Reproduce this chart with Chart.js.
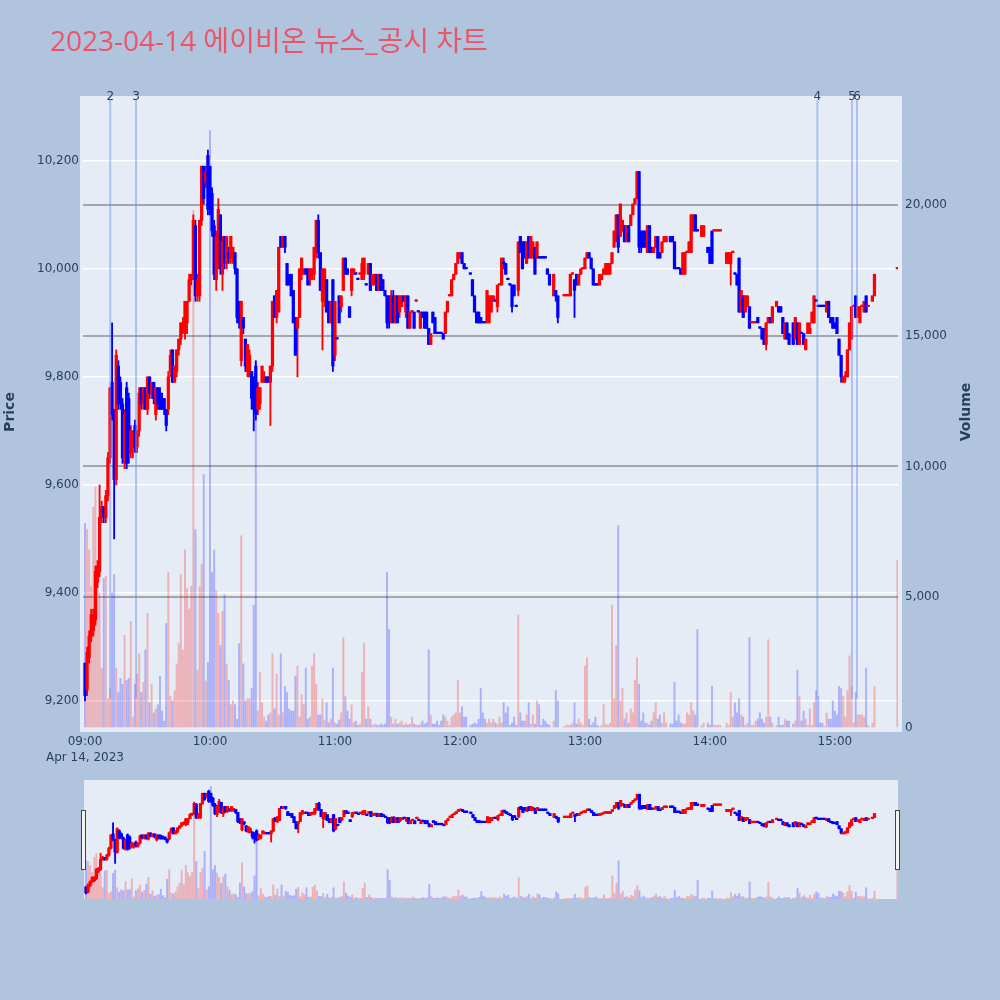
<!DOCTYPE html>
<html lang="ko">
<head>
<meta charset="utf-8">
<script src="https://cdn.jsdelivr.net/npm/chart.js"></script>
<style>
  html, body { margin:0; padding:0; background:#b0c4de; }
  body { width:1000px; height:1000px; position:relative; overflow:hidden; }
  #mainWrap { position:absolute; left:0; top:0; width:1000px; height:770px; }
  #sliderWrap { position:absolute; left:84px; top:780px; width:814px; height:119px; background:#e5ecf6; }
  .handle { position:absolute; top:810px; width:3px; height:58px; background:#f4f4f4; border:1px solid #444; }
</style>
</head>
<body>
<div id="mainWrap"><canvas id="main" width="1000" height="770"></canvas></div>
<div id="sliderWrap"><canvas id="slider" width="814" height="119"></canvas></div>
<div class="handle" style="left:81px"></div>
<div class="handle" style="left:895px"></div>
<script>
// ---------------- DATA ----------------
const chartTitle = '2023-04-14 에이비온 뉴스_공시 차트';
const dateLabel = 'Apr 14, 2023';
const hourLabels = ['09:00','10:00','11:00','12:00','13:00','14:00','15:00'];
const hourTicks = [0, 60, 120, 180, 240, 300, 360];           // minutes after 09:00
const priceTicks = [9200, 9400, 9600, 9800, 10000, 10200];
const volumeTicks = [0, 5000, 10000, 15000, 20000];
const eventLabels = ['2', '3', '4', '5', '6'];
const eventTimes = [12.1, 24.5, 351.6, 368.2, 370.6];         // minutes after 09:00

// one entry per minute from 09:00 (index 0) to 15:30 (index 390); null = no trade
const opens = [
 9270,9220,9280,9320,9330,9350,9420,9440,9540,9560,
 9540,9580,9650,9790,9730,9610,9820,9790,9750,9640,
 9780,9760,9660,9670,9710,9670,9700,9780,9750,9780,
 9740,9800,9770,9790,9730,9780,9770,9760,9760,9740,
 9740,9810,9850,9790,9810,9850,9870,9890,9880,9900,
 9940,9980,9990,10080,9950,9950,10090,10190,10160,10210,
 10190,10140,10080,9980,10010,10100,9990,10060,10010,10030,
 10020,10020,10030,10000,9940,9830,9910,9870,9810,9800,
 9810,9800,9820,9740,9750,9790,9790,9800,9800,9790,
 9820,9950,9910,9920,10060,10040,10060,10010,9990,9990,
 9960,9910,9890,9910,9990,9990,10000,10000,9980,9990,
 9990,10030,10090,10030,9940,9940,9980,9940,9900,9980,
 9840,9870,9950,9930,9960,10020,10000,9930,9960,9990,
 9990,9980,9990,9980,9990,9970,9990,10010,9970,9980,
 9990,9960,9990,9980,9960,9950,9950,9900,9950,9900,
 9950,9920,9930,9950,9920,9950,9890,9920,9920,9940,
 9920,9890,9920,9920,9920,9890,9860,9920,9910,9880,
 9880,9880,9880,9880,9920,9950,9950,9980,9990,10010,
 10020,10030,10010,10000,null,9990,9980,9950,9920,9920,
 9910,9900,9900,9900,9900,9920,9940,9940,9930,9970,
 9970,10010,10010,9980,9970,9970,9970,9930,9960,10060,
 10050,10050,10010,10060,10020,10020,10040,10020,10020,10020,
 10020,10020,10000,9990,null,9950,9960,9950,null,null,
 9950,9950,9950,9950,9990,9980,9990,9970,9990,10000,
 10000,10020,10030,10020,10000,9970,9970,9970,9980,9990,
 9990,9990,9990,10010,10040,10050,10100,10060,10070,10080,
 10050,10080,10080,10100,10120,10130,10180,10070,10070,10070,
 10030,10080,10040,10030,10040,10060,10030,10030,10050,10050,
 null,10060,10060,10050,10000,10000,10000,9990,9990,10030,
 10030,10030,10070,10100,10070,null,10060,10060,null,10040,
 10040,10070,10070,10070,10070,10070,null,null,10010,10010,
 10010,10030,9990,9990,10020,9920,9950,9920,9930,9930,
 9900,9900,9900,9910,9890,9890,9890,9860,9900,9910,
 9900,null,9930,9930,9930,9910,9870,9900,9880,null,
 9900,9870,9900,9860,9880,9880,9850,9880,9880,9900,
 9900,9940,9930,9930,9930,9930,9920,9940,9910,9910,
 9900,9910,9870,9840,9790,9800,9800,9850,9870,9930,
 9950,9910,9900,9930,9920,9950,9930,null,9940,9950,
 null,null,null,null,null,null,null,null,null,null,
 10000
];
const highs = [
 9270,9300,9330,9370,9370,9450,9460,9600,9570,9560,
 9590,9660,9780,9900,9740,9850,9830,9800,9760,9740,
 9790,9770,9710,9700,9720,9700,9780,9780,9780,9780,
 9800,9800,9790,9790,9780,9780,9780,9770,9760,9740,
 9810,9850,9850,9820,9850,9870,9900,9910,9940,9940,
 9990,9990,10100,10090,9990,10090,10190,10190,10190,10220,
 10190,10150,10090,10070,10130,10100,10060,10060,10060,10040,
 10060,10040,10030,10000,9940,9940,9910,9870,9860,9850,
 9810,9800,9830,9790,9780,9820,9810,9800,9800,9820,
 9940,9950,9960,10040,10060,10060,10060,10010,9990,9990,
 9960,9910,9910,10000,10020,10000,10000,10000,10000,10000,
 10040,10090,10100,10030,10000,10000,9980,9940,9940,9980,
 9940,9870,9950,9950,10020,10020,10000,9930,10000,10000,
 9990,9980,9990,10020,10020,9970,10010,10010,9990,9990,
 9990,9990,9990,9980,9960,9950,9950,9960,9960,9950,
 9950,9950,9950,9950,9950,9950,9920,9920,9920,9940,
 9920,9920,9920,9920,9920,9890,9880,9920,9910,9880,
 9880,9880,9880,9920,9940,9950,9980,9990,10010,10030,
 10030,10030,10010,10000,null,9990,9980,9950,9920,9920,
 9910,9900,9900,9960,9950,9950,9950,9940,9970,9970,
 10020,10020,10010,9980,9970,9970,9970,9930,10050,10060,
 10050,10050,10050,10060,10060,10050,10040,10050,10020,10020,
 10020,10020,10000,9990,null,9990,9960,9950,null,null,
 9950,9950,9950,9990,9990,9980,9990,9990,10000,10000,
 10020,10030,10030,10020,10000,9970,9970,9990,9990,10000,
 10010,10010,10010,10030,10070,10100,10100,10120,10090,10080,
 10080,10080,10100,10120,10130,10180,10180,10070,10070,10070,
 10080,10080,10040,10040,10060,10060,10030,10050,10060,10060,
 null,10060,10060,10050,10000,10000,10000,10030,10030,10030,
 10050,10100,10100,10100,10070,null,10080,10080,null,10040,
 10040,10070,10070,10070,10070,10070,null,null,10030,10030,
 10030,10030,9990,9990,10020,9960,9950,9950,9950,9930,
 9900,9900,9900,9910,9890,9890,9890,9900,9910,9910,
 9930,null,9940,9930,9930,9910,9900,9900,9880,null,
 9900,9910,9900,9900,9880,9880,9870,9900,9900,9920,
 9950,9940,9930,9930,9930,9930,9940,9940,9910,9910,
 9900,9910,9870,9840,9800,9810,9850,9900,9930,9930,
 9950,9930,9930,9930,9940,9950,9930,null,9950,9990,
 null,null,null,null,null,null,null,null,null,null,
 10000
];
const lows = [
 9200,9210,9270,9310,9320,9340,9410,9430,9530,9530,
 9530,9570,9640,9720,9500,9600,9740,9740,9640,9630,
 9630,9640,9650,9650,9660,9660,9690,9740,9740,9740,
 9730,9760,9760,9750,9720,9740,9740,9740,9730,9700,
 9730,9800,9790,9790,9800,9840,9860,9880,9870,9880,
 9940,9970,9980,9940,9940,9940,10080,10120,10150,10100,
 10100,10060,9980,9960,10000,9990,9960,10000,10000,10010,
 10010,10010,9990,9900,9890,9820,9880,9810,9800,9800,
 9740,9700,9720,9730,9740,9790,9790,9790,9790,9710,
 9810,9910,9900,9920,10040,10040,10030,9970,9970,9950,
 9900,9840,9800,9910,9980,9990,9990,9970,9970,9980,
 9980,10020,10020,9960,9850,9930,9920,9900,9900,9810,
 9830,9870,9900,9920,9960,9990,9990,9910,9950,9990,
 9990,9980,9990,9980,9980,9970,9990,9960,9970,9970,
 9960,9960,9960,9960,9950,9890,9890,9900,9900,9900,
 9900,9910,9930,9940,9910,9890,9890,9920,9890,9940,
 9920,9890,9910,9890,9890,9860,9860,9900,9880,9880,
 9880,9880,9870,9880,9920,9950,9950,9980,9990,10010,
 10020,10010,10000,10000,null,9990,9950,9920,9900,9900,
 9900,9900,9900,9900,9900,9920,9940,9940,9920,9970,
 9970,10000,9990,9980,9970,9920,9950,9930,9950,10030,
 10000,10020,10010,10020,10020,10020,9990,10020,10020,10020,
 10020,10020,9990,9970,null,9950,9940,9900,null,null,
 9950,9950,9950,9950,9990,9910,9970,9970,9990,10000,
 10000,10020,10020,10000,9970,9970,9970,9970,9980,9990,
 9990,9990,9990,10010,10040,10050,10030,10060,10070,10050,
 10050,10050,10080,10100,10120,10130,10030,10030,10040,10040,
 10030,10030,10030,10030,10040,10020,10020,10030,10050,10050,
 null,10050,10050,10000,10000,10000,9990,9990,9990,10030,
 10030,10030,10070,10070,10070,null,10060,10060,null,10030,
 10010,10010,10070,10070,10070,10070,null,null,10010,10010,
 9970,10030,9990,9970,9920,9920,9910,9920,9930,9890,
 9900,9900,9900,9900,9890,9870,9860,9850,9900,9900,
 9900,null,9930,9920,9920,9880,9870,9870,9860,null,
 9860,9870,9860,9860,9880,9860,9850,9880,9880,9900,
 9900,9940,9930,9930,9930,9930,9920,9910,9900,9890,
 9890,9880,9840,9790,9790,9790,9800,9850,9870,9930,
 9910,9910,9900,9930,9920,9920,9930,null,9940,9950,
 null,null,null,null,null,null,null,null,null,null,
 10000
];
const closes = [
 9210,9290,9320,9360,9360,9440,9450,9540,9560,9540,
 9580,9650,9780,9730,9610,9840,9750,9750,9650,9730,
 9640,9660,9700,9700,9670,9700,9770,9750,9780,9740,
 9800,9770,9790,9760,9780,9750,9740,9740,9740,9710,
 9800,9840,9790,9820,9850,9870,9900,9900,9940,9940,
 9980,9990,10090,9950,9980,10090,10190,10130,10180,10110,
 10110,10070,9990,10060,10110,10000,10050,10010,10060,10020,
 10060,10040,10000,9910,9900,9940,9890,9820,9860,9840,
 9760,9740,9730,9780,9780,9820,9800,9790,9790,9820,
 9940,9910,9960,10040,10040,10060,10040,9970,9970,9950,
 9900,9840,9910,10000,10020,10000,9990,9970,10000,10000,
 10040,10090,10030,9960,10000,10000,9920,9900,9940,9820,
 9940,9870,9900,9950,10020,9990,9990,9910,10000,10000,
 9990,9980,9990,10010,10020,9970,10010,9960,9990,9990,
 9960,9990,9960,9960,9950,9900,9900,9950,9900,9950,
 9900,9950,9950,9940,9950,9890,9920,9920,9890,9940,
 9920,9920,9910,9890,9890,9860,9880,9900,9880,9880,
 9880,9880,9870,9920,9940,9950,9980,9990,10010,10030,
 10030,10010,10000,10000,null,9990,9950,9920,9900,9900,
 9900,9900,9900,9960,9950,9950,9950,9940,9970,9970,
 10020,10010,9990,9980,9970,9930,9950,9930,10050,10030,
 10000,10020,10050,10020,10060,10050,9990,10050,10020,10020,
 10020,10020,9990,9970,null,9990,9950,9910,null,null,
 9950,9950,9950,9990,9990,9960,9970,9990,10000,10000,
 10020,10030,10020,10000,9970,9970,9970,9990,9990,10000,
 10010,10010,10010,10030,10070,10100,10040,10120,10090,10050,
 10080,10050,10100,10120,10130,10180,10040,10040,10040,10040,
 10080,10030,10030,10040,10060,10020,10020,10050,10060,10060,
 null,10050,10050,10000,10000,10000,9990,10030,10030,10030,
 10050,10100,10100,10070,10070,null,10080,10080,null,10030,
 10010,10010,10070,10070,10070,10070,null,null,10030,10030,
 10030,10030,9990,9970,9920,9960,9910,9950,9950,9890,
 9900,9900,9900,9900,9890,9870,9860,9900,9910,9900,
 9930,null,9940,9920,9920,9880,9900,9870,9860,null,
 9860,9910,9860,9900,9880,9860,9870,9900,9890,9920,
 9950,9940,9930,9930,9930,9930,9940,9910,9900,9890,
 9890,9880,9840,9800,9800,9800,9850,9900,9930,9930,
 9910,9930,9930,9930,9940,9920,9930,null,9950,9990,
 null,null,null,null,null,null,null,null,null,null,
 10000
];
const volumes = [
 7820,7590,6810,5410,8440,9220,5950,5170,2290,5720,
 5800,1120,1500,5170,5870,2290,1360,1900,1670,3540,
 1820,1900,4080,420,1670,2060,2840,1360,1745,2990,
 4390,970,1670,580,730,890,1980,650,265,4000,
 5950,1200,1040,1430,2450,3230,5870,2990,6810,5330,
 4550,5410,19800,7590,2210,5410,6260,9690,1800,2500,
 22850,5950,6810,5250,4390,3150,4470,5090,2450,1820,
 890,1040,890,340,3230,7350,2450,1040,1120,1120,
 1510,4700,14000,650,2130,970,420,265,500,580,
 2840,730,2060,500,2840,580,1590,1360,730,650,
 650,1980,2370,420,1280,890,2290,340,420,2370,
 2840,1670,500,500,1120,300,970,200,340,2290,
 190,150,300,580,3460,1200,650,340,890,200,
 265,100,150,2130,3230,340,810,340,110,150,
 110,110,150,110,150,5950,3770,420,150,340,
 150,190,265,100,190,110,150,420,150,110,
 100,150,265,150,200,2990,500,150,150,265,
 100,265,500,420,265,100,420,500,580,1820,
 580,810,420,420,null,100,150,190,150,340,
 1510,580,340,190,340,190,340,190,150,420,
 190,970,580,810,100,190,420,100,4320,580,
 265,265,500,970,150,500,150,1040,890,100,
 340,265,150,100,null,265,1430,1040,null,null,
 50,110,100,110,190,970,150,340,190,100,
 2370,2680,340,110,200,420,100,50,100,890,
 150,100,190,4700,1120,3150,7740,1040,1510,340,
 580,190,730,580,1820,2680,1670,265,580,190,
 190,110,265,580,970,340,500,190,580,190,
 null,150,150,1745,265,500,190,150,150,580,
 500,970,650,500,3770,null,110,190,null,190,
 100,1590,110,100,100,100,null,null,190,100,
 1360,420,970,580,1120,500,420,110,190,3460,
 110,110,265,340,580,340,190,420,3380,420,
 190,null,100,420,100,110,340,265,265,null,
 150,265,2210,1200,265,650,340,100,730,110,
 970,1430,1200,190,190,50,580,340,340,1040,
 650,500,1590,1510,1200,420,1430,2760,1590,190,
 1360,500,500,500,420,2290,100,null,190,1590,
 null,null,null,null,null,null,null,null,null,null,
 6420
];

// ---------------- BUILD DATASETS ----------------
const UP = '#ff0000', DOWN = '#0000ff';
const UP_V = 'rgba(255,0,0,0.25)', DOWN_V = 'rgba(0,0,255,0.25)';

function buildSets() {
  const body = [], wick = [], vol = [], cCol = [], vCol = [];
  let prevClose = null, prevDir = 1;
  for (let m = 0; m < opens.length; m++) {
    const o = opens[m], h = highs[m], l = lows[m], c = closes[m];
    if (o == null) continue;
    let dir;
    if (c > o) dir = 1; else if (c < o) dir = -1;
    else if (prevClose != null && c > prevClose) dir = 1;
    else if (prevClose != null && c < prevClose) dir = -1;
    else dir = prevDir;
    prevClose = c; prevDir = dir;
    body.push({x: m, y: [Math.min(o, c), Math.max(o, c)]});
    wick.push({x: m, y: [l, h]});
    vol.push({x: m, y: volumes[m]});
    cCol.push(dir > 0 ? UP : DOWN);
    vCol.push(dir > 0 ? UP_V : DOWN_V);
  }
  return [
    {label: 'Volume', yAxisID: 'y2', data: vol, backgroundColor: vCol, barThickness: 1.3,
     grouped: false, order: 3, borderWidth: 0},
    {label: 'Wick', yAxisID: 'y', data: wick, backgroundColor: cCol, barThickness: 1.2,
     grouped: false, order: 2, borderWidth: 0, minBarLength: 1.5},
    {label: 'Candle', yAxisID: 'y', data: body, backgroundColor: cCol, barThickness: 2.6,
     grouped: false, order: 1, borderWidth: 0, minBarLength: 1.5}
  ];
}

const X_MIN = -0.96, X_MAX = 390.3;
const P_MIN = 9150, P_MAX = 10320, V_MAX = 24168;
const TICK_COLOR = '#2a3f5f';
const tickFont = {family: '"DejaVu Sans", Verdana, sans-serif', size: 12};

const plotBg = {
  id: 'plotBg',
  beforeDraw(chart) {
    const {ctx, chartArea: a} = chart;
    ctx.save();
    ctx.fillStyle = '#e5ecf6';
    ctx.fillRect(a.left - 3, a.top, a.right - a.left + 7, a.bottom - a.top + 4);
    ctx.restore();
  }
};

const decorations = {
  id: 'decorations',
  afterDatasetsDraw(chart) {
    const {ctx, chartArea: a} = chart;
    const xs = chart.scales.x, ys = chart.scales.y;
    ctx.save();
    ctx.strokeStyle = 'rgba(100,140,235,0.45)';
    ctx.lineWidth = 2;
    const yTop = a.top + 4, yBot = ys.getPixelForValue(9205);
    eventTimes.forEach((t, i) => {
      const px = xs.getPixelForValue(t);
      ctx.beginPath(); ctx.moveTo(px, yTop); ctx.lineTo(px, yBot); ctx.stroke();
    });
    ctx.fillStyle = TICK_COLOR;
    ctx.font = '12px "DejaVu Sans", Verdana, sans-serif';
    ctx.textAlign = 'center'; ctx.textBaseline = 'middle';
    eventTimes.forEach((t, i) => {
      ctx.fillText(eventLabels[i], xs.getPixelForValue(t), a.top + 0.5);
    });
    ctx.restore();
  },
  afterDraw(chart) {
    const {ctx, chartArea: a} = chart;
    ctx.save();
    // title
    ctx.fillStyle = '#eb5569';
    ctx.font = '28px "Open Sans", "Noto Sans CJK KR", sans-serif';
    ctx.textAlign = 'left'; ctx.textBaseline = 'alphabetic';
    ctx.fillText(chartTitle, 50, 51);
    // axis titles
    ctx.fillStyle = TICK_COLOR;
    ctx.font = 'bold 14px "DejaVu Sans", Verdana, sans-serif';
    ctx.textAlign = 'center'; ctx.textBaseline = 'middle';
    const cy = (a.top + a.bottom) / 2;
    ctx.save(); ctx.translate(10, cy); ctx.rotate(-Math.PI / 2); ctx.fillText('Price', 0, 0); ctx.restore();
    ctx.save(); ctx.translate(966, cy); ctx.rotate(-Math.PI / 2); ctx.fillText('Volume', 0, 0); ctx.restore();
    ctx.restore();
  }
};

new Chart(document.getElementById('main'), {
  type: 'bar',
  data: {datasets: buildSets()},
  options: {
    responsive: false, animation: false, events: [],
    layout: {padding: {top: 96, right: 22, left: 0, bottom: 0}},
    plugins: {legend: {display: false}, tooltip: {enabled: false}, title: {display: false}},
    scales: {
      x: {
        type: 'linear', min: X_MIN, max: X_MAX, offset: false,
        grid: {display: false, drawTicks: false}, border: {display: false},
        afterBuildTicks: s => { s.ticks = hourTicks.map(v => ({value: v})); },
        ticks: {
          autoSkip: false, maxRotation: 0, minRotation: 0, padding: 6, color: TICK_COLOR,
          font: Object.assign({lineHeight: 1.3}, tickFont),
          callback: v => {
            const i = hourTicks.indexOf(v);
            return i === 0 ? [hourLabels[0], dateLabel] : hourLabels[i];
          }
        },
        afterFit: s => { s.height = 42; }
      },
      y: {
        position: 'left', min: P_MIN, max: P_MAX,
        afterBuildTicks: s => { s.ticks = priceTicks.map(v => ({value: v})); },
        ticks: {padding: 4, color: TICK_COLOR, font: tickFont, callback: v => v.toLocaleString('en-US')},
        grid: {color: '#ffffff', lineWidth: 1.5, drawTicks: false}, border: {display: false},
        afterFit: s => { s.width = 83; }
      },
      y2: {
        position: 'right', min: 0, max: V_MAX,
        afterBuildTicks: s => { s.ticks = volumeTicks.map(v => ({value: v})); },
        ticks: {padding: 7, color: TICK_COLOR, font: tickFont, callback: v => v.toLocaleString('en-US')},
        grid: {color: c => (c.tick && c.tick.value === 0) ? 'rgba(0,0,0,0)' : '#a3a6ad', lineWidth: 2, drawTicks: false},
        border: {display: false},
        afterFit: s => { s.width = 80; }
      }
    }
  },
  plugins: [plotBg, decorations]
});

// range slider (miniature copy of the whole day)
new Chart(document.getElementById('slider'), {
  type: 'bar',
  data: {datasets: buildSets()},
  options: {
    responsive: false, animation: false, events: [],
    layout: {padding: 0},
    plugins: {legend: {display: false}, tooltip: {enabled: false}},
    scales: {
      x: {type: 'linear', min: X_MIN, max: X_MAX, display: false, offset: false},
      y: {min: P_MIN, max: P_MAX, display: false},
      y2: {min: 0, max: V_MAX, display: false}
    }
  }
});
</script>
</body>
</html>
